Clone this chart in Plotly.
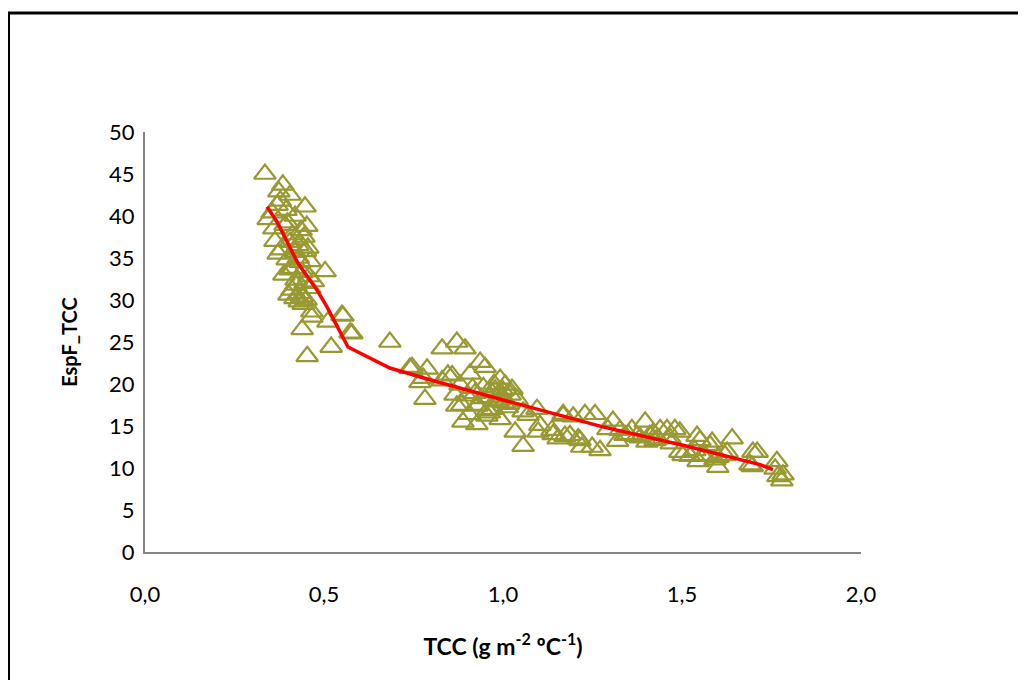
import plotly.graph_objects as go

# observed points (TCC vs EspF_TCC)
tcc = [
    # high-value cluster
    0.335, 0.385, 0.374, 0.405, 0.369, 0.447, 0.355, 0.394, 0.419, 0.344,
    0.391, 0.436, 0.444, 0.363, 0.405, 0.427, 0.380, 0.419, 0.455, 0.397,
    0.433, 0.461, 0.405, 0.439, 0.503, 0.422, 0.447, 0.411, 0.433, 0.461,
    0.419, 0.450, 0.466, 0.553, 0.511, 0.573, 0.439, 0.520, 0.453, 0.466,
    0.360, 0.378, 0.398, 0.372, 0.388, 0.412, 0.428, 0.452, 0.421, 0.442,
    0.458, 0.431, 0.448, 0.438, 0.470, 0.414, 0.425, 0.402, 0.578, 0.550,
    # middle cluster
    0.684, 0.746, 0.788, 0.768, 0.782, 0.830, 0.871, 0.894, 0.830, 0.858,
    0.908, 0.936, 0.950, 0.992, 1.025, 1.039, 0.899, 0.871, 0.927, 0.972,
    0.888, 0.927, 0.992, 1.056, 1.034, 1.056, 1.095, 1.098, 1.140, 1.168,
    1.154, 0.740, 0.777, 0.846, 0.880, 0.866, 0.885, 0.922, 0.930, 0.958,
    0.978, 1.006, 1.020, 0.945, 0.960, 0.975, 0.990, 1.005, 0.955, 0.968,
    0.985, 1.000, 1.012, 0.940, 0.915, 0.905, 0.962, 0.998, 1.015, 1.070,
    # low-value cluster
    1.168, 1.196, 1.229, 1.257, 1.173, 1.210, 1.220, 1.249, 1.307, 1.293,
    1.360, 1.397, 1.374, 1.439, 1.458, 1.480, 1.494, 1.433, 1.402, 1.542,
    1.584, 1.640, 1.494, 1.522, 1.559, 1.600, 1.626, 1.545, 1.600, 1.698,
    1.710, 1.696, 1.765, 1.760, 1.768, 1.779, 1.137, 1.187, 1.215, 1.271,
    1.327, 1.341, 1.383, 1.410, 1.425, 1.466, 1.503, 1.536, 1.550, 1.564,
    1.578, 1.592, 1.620, 1.690, 1.782, 1.103, 1.320, 1.350, 1.420, 1.470,
]
espf = [
    45.0, 43.7, 42.9, 42.5, 41.3, 41.1, 40.4, 40.7, 40.0, 39.6,
    38.9, 38.3, 37.5, 37.0, 36.9, 36.5, 36.0, 35.7, 36.2, 34.8,
    34.5, 34.6, 33.6, 33.3, 33.4, 32.4, 32.0, 31.2, 30.8, 31.4,
    30.2, 30.0, 28.6, 28.1, 27.4, 26.1, 26.5, 24.4, 23.3, 28.0,
    38.5, 41.8, 39.2, 35.5, 33.0, 37.8, 35.0, 38.8, 31.8, 29.5,
    32.8, 29.8, 35.8, 30.4, 32.2, 33.8, 37.2, 30.6, 26.0, 28.2,
    25.0, 22.0, 21.8, 20.2, 18.2, 24.2, 25.0, 24.2, 20.4, 21.0,
    21.2, 22.6, 22.0, 20.6, 19.4, 18.2, 18.6, 17.4, 17.4, 17.0,
    15.5, 15.2, 15.8, 16.7, 14.3, 12.6, 17.0, 14.3, 14.0, 16.2,
    13.5, 21.9, 20.7, 21.1, 19.9, 18.7, 17.5, 18.9, 17.5, 16.9,
    19.3, 19.9, 18.7, 19.6, 18.4, 20.0, 18.1, 17.8, 16.2, 19.0,
    17.9, 19.2, 17.2, 18.3, 19.5, 16.4, 16.6, 18.5, 17.6, 16.3,
    16.4, 16.1, 16.4, 16.4, 13.8, 13.5, 12.5, 12.5, 15.6, 14.6,
    14.6, 15.5, 13.8, 14.6, 14.6, 14.6, 14.3, 13.5, 13.1, 13.8,
    13.1, 13.5, 11.9, 11.4, 11.4, 11.3, 11.9, 10.8, 10.1, 11.9,
    11.9, 10.2, 10.8, 9.9, 9.0, 8.5, 14.5, 13.9, 13.3, 12.1,
    14.5, 13.9, 13.6, 13.9, 13.3, 13.6, 11.5, 12.1, 13.3, 11.5,
    12.7, 11.0, 11.5, 10.4, 9.2, 15.1, 13.2, 14.0, 14.2, 12.9,
]

# fitted curve
fit_x = [0.341, 0.369, 0.427, 0.480, 0.508, 0.553, 0.567, 0.684, 0.796,
         1.000, 1.140, 1.279, 1.503, 1.718, 1.754]
fit_y = [41.1, 39.3, 34.4, 31.2, 29.2, 25.6, 24.4, 21.9, 20.5,
         18.1, 16.5, 14.9, 12.7, 10.4, 9.8]

x_ticks = [0, 0.5, 1.0, 1.5, 2.0]
y_ticks = [0, 5, 10, 15, 20, 25, 30, 35, 40, 45, 50]

fig = go.Figure()

fig.add_trace(go.Scatter(
    x=tcc, y=espf, mode='markers',
    marker=dict(symbol='triangle-up-open', size=19, color='#999933',
                line=dict(width=2.2, color='#999933')),
    showlegend=False))

fig.add_trace(go.Scatter(
    x=fit_x, y=fit_y, mode='lines',
    line=dict(color='#ff0000', width=3.5),
    showlegend=False))

fnt = 'Lato, "Open Sans", sans-serif'

fig.update_xaxes(
    range=[0, 2], tickvals=x_ticks, tickformat='.1f',
    showgrid=False, zeroline=False, showline=True, linecolor='#868686', linewidth=2,
    ticks='', ticklabelstandoff=22, tickfont=dict(size=22, color='black', family=fnt),
    title=dict(text='<b>TCC (g m<sup>-2</sup> ºC<sup>-1</sup>)</b>', standoff=32,
               font=dict(size=23, color='black', family=fnt)))

fig.update_yaxes(
    range=[0, 50], tickvals=y_ticks,
    showgrid=False, zeroline=False, showline=True, linecolor='#868686', linewidth=2,
    ticks='', ticklabelstandoff=4, tickfont=dict(size=22, color='black', family=fnt),
    title=dict(text='<b>EspF_TCC</b>', standoff=26,
               font=dict(size=20, color='black', family=fnt)))

# outer chart frame (runs off the right and bottom of the window)
fig.add_shape(type='rect', xref='paper', yref='paper',
              x0=(0.5 - 137) / 716, x1=(1060 - 137) / 716,
              y0=(544 - 720) / 420, y1=(544 - 5) / 420,
              line=dict(color='black', width=3), fillcolor='rgba(0,0,0,0)')

fig.update_layout(
    width=1018, height=672,
    margin=dict(l=137, r=165, t=124, b=128),
    plot_bgcolor='white', paper_bgcolor='white',
    separators=',.',
    font=dict(family=fnt, color='black'))

fig.write_html("out.html")
